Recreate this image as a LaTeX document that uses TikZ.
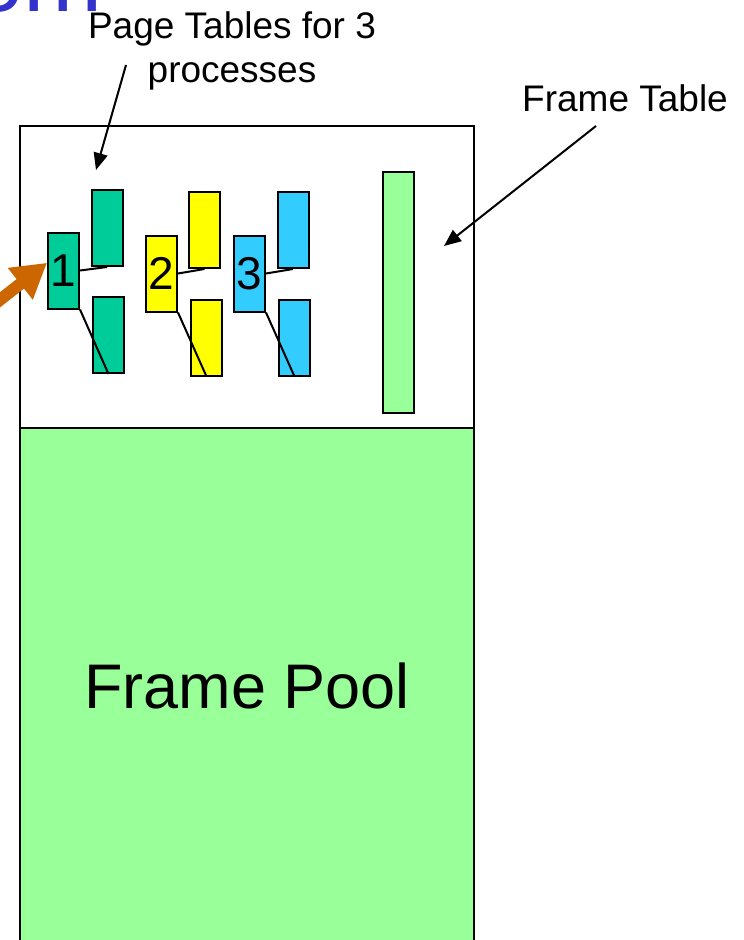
\documentclass[tikz,border=0pt]{standalone}
\usepackage{fontspec}
\setmainfont{Liberation Sans}
\usetikzlibrary{positioning, arrows.meta}
\definecolor{ptteal}{HTML}{00CC99}
\definecolor{ptyellow}{HTML}{FFFF00}
\definecolor{ptblue}{HTML}{33CCFF}
\definecolor{poolgreen}{HTML}{99FF99}
\definecolor{arrorange}{HTML}{CC6600}
\definecolor{titleblue}{HTML}{3333CC}

\begin{document}
\begin{tikzpicture}[
        x=1pt, y=-1pt,
        ptbox/.style={
          draw=black, line width=2pt,
          minimum width=31pt, minimum height=76pt,
          inner sep=0pt,
          font=\fontsize{46}{50}\selectfont,
        },
        link/.style={
          draw=black, line width=2pt,
        },
        pointer/.style={
          -{Triangle[length=17pt,width=14pt]}, draw=black, line width=2pt,
        },
        note/.style={
          inner sep=0pt, font=\fontsize{37}{44}\selectfont,
        },
      ]
      \useasboundingbox (0,0) rectangle (744,940);

      % memory
      \fill[poolgreen] (20,428) rectangle (474,945);
      \draw[line width=2.5pt] (20,945) -- (20,126) -- (474,126) -- (474,945);
      \draw[line width=2.5pt] (20,428) -- (474,428);
      \node[font=\fontsize{63}{70}\selectfont] (pool) at (247,686) {Frame Pool};
      \node[ptbox, fill=poolgreen, minimum height=241pt] (ft) at (398.5,292.5) {};

      % page tables
      \node[ptbox, fill=ptteal] (m1) at (63.5,270.5) {1};
      \node[ptbox, fill=ptteal] (u1) at (107,228) {};
      \node[ptbox, fill=ptteal] (l1) at (108.5,335) {};
      \node[ptbox, fill=ptyellow] (m2) at (161.5,273.5) {2};
      \node[ptbox, fill=ptyellow] (u2) at (204.5,230) {};
      \node[ptbox, fill=ptyellow] (l2) at (206.5,337.5) {};
      \node[ptbox, fill=ptblue] (m3) at (249.5,273.5) {3};
      \node[ptbox, fill=ptblue] (u3) at (293,230) {};
      \node[ptbox, fill=ptblue] (l3) at (294.5,337.5) {};

      \draw[link] (m1.east) -- (u1.south);
      \draw[link] (m1.south east) -- (l1.south);
      \draw[link] (m2.east) -- (u2.south);
      \draw[link] (m2.south east) -- (l2.south);
      \draw[link] (m3.east) -- (u3.south);
      \draw[link] (m3.south east) -- (l3.south);

      % labels
      \node[font=\fontsize{95}{100}\selectfont, text=titleblue, anchor=base east, inner sep=0pt] (title) at (103,11) {em};
      \node[note, align=center, anchor=north] (ptlabel) at (232,11) {Page Tables for 3\\processes};
      \node[note, anchor=base] (ftlabel) at (625,111) {Frame Table};

      \coordinate (ptfrom) at (126,65);
      \coordinate (ptto) at (96,170);
      \coordinate (ftfrom) at (596,126);
      \coordinate (ftto) at (444,246);
      \coordinate (ext) at (-32,325);

      \draw[pointer] (ptfrom) -- (ptto);
      \draw[pointer] (ftfrom) -- (ftto);
      \draw[-{Triangle[length=34pt,width=38pt]}, draw=arrorange, fill=arrorange, line width=12pt] (ext) -- (m1.155);
    \end{tikzpicture}
\end{document}
